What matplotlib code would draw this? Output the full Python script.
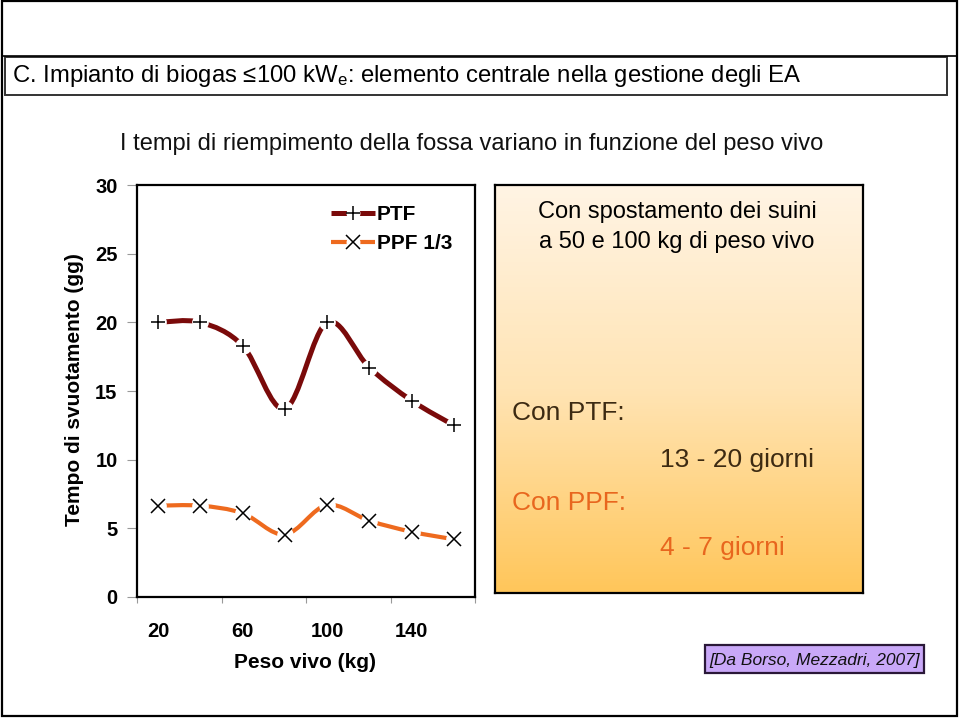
import numpy as np
import matplotlib
matplotlib.use("Agg")
import matplotlib.pyplot as plt
from matplotlib.path import Path
from matplotlib.patches import PathPatch, Rectangle
from matplotlib.lines import Line2D
from matplotlib.legend_handler import HandlerTuple
from matplotlib.colors import LinearSegmentedColormap

plt.rcParams['font.family'] = ['Liberation Sans', 'DejaVu Sans']
plt.rcParams['mathtext.fontset'] = 'custom'
plt.rcParams['mathtext.rm'] = 'Liberation Sans'
plt.rcParams['mathtext.it'] = 'Liberation Sans:italic'

# ---- data ----
peso_vivo = [20, 40, 60, 80, 100, 120, 140, 160]
ptf = [20.0, 20.0, 18.3, 13.7, 20.0, 16.7, 14.3, 12.5]
ppf = [6.65, 6.65, 6.1, 4.55, 6.7, 5.55, 4.75, 4.2]
x_tick_labels = ['20', '60', '100', '140']
x_tick_values = [20, 60, 100, 140]
y_ticks = [0, 5, 10, 15, 20, 25, 30]
series_names = ['PTF', 'PPF 1/3']

W, H = 960, 720
fig = plt.figure(figsize=(9.6, 7.2), dpi=100)

def fx(px):
    return px / W

def fy(py):
    return 1 - py / H

# ---- frame / header ----
frame = fig.add_axes([0, 0, 1, 1], zorder=-5)
frame.set_xlim(0, W)
frame.set_ylim(H, 0)
frame.axis('off')
frame.add_patch(Rectangle((2, 1), 955, 715, fill=False, ec='black', lw=1.6))
frame.plot([2, 957], [56, 56], color='black', lw=1.2)
frame.add_patch(Rectangle((5, 57), 942, 38, fill=False, ec='#333333', lw=1.4))
fig.text(fx(12), fy(76), r"C. Impianto di biogas ≤100 kW$_\mathrm{e}$: elemento centrale nella gestione degli EA",
         fontsize=17.2, ha='left', va='center', color='black')

# chart title
fig.text(fx(472), fy(144), "I tempi di riempimento della fossa variano in funzione del peso vivo",
         fontsize=17, ha='center', va='center', color='#111111')

# ---- main chart ----
ax = fig.add_axes([fx(137), fy(597), (475 - 137) / W, (597 - 185) / H])
ax.set_xlim(10, 170)
ax.set_ylim(0, 30)

def smooth_path(xs, ys):
    pts = np.column_stack([xs, ys]).astype(float)
    n = len(pts)
    verts = [pts[0]]
    codes = [Path.MOVETO]
    for i in range(n - 1):
        p0 = pts[i - 1] if i > 0 else pts[i]
        p1 = pts[i]
        p2 = pts[i + 1]
        p3 = pts[i + 2] if i + 2 < n else pts[i + 1]
        c1 = p1 + (p2 - p0) / 6.0
        c2 = p2 - (p3 - p1) / 6.0
        verts += [c1, c2, p2]
        codes += [Path.CURVE4] * 3
    return Path(verts, codes)

ptf_color = '#7A0A0A'
ppf_color = '#EE6A1E'

handles = []
for ys, col, mk, lw in [(ptf, ptf_color, '+', 3.6), (ppf, ppf_color, 'x', 3.0)]:
    ax.add_patch(PathPatch(smooth_path(peso_vivo, ys), fill=False, ec=col, lw=lw,
                           capstyle='butt', zorder=2))
    ax.plot(peso_vivo, ys, linestyle='none', marker='o', markersize=12,
            markerfacecolor='white', markeredgecolor='none', zorder=3)
    ax.plot(peso_vivo, ys, linestyle='none', marker=mk, markersize=10,
            markeredgecolor='black', markeredgewidth=1.1, zorder=4)
    h_line = Line2D([], [], color=col, lw=lw, solid_capstyle='butt')
    h_white = Line2D([], [], linestyle='none', marker='o', markersize=10,
                     markerfacecolor='white', markeredgecolor='none')
    h_mk = Line2D([], [], linestyle='none', marker=mk, markersize=10,
                  markeredgecolor='black', markeredgewidth=1.1)
    handles.append((h_line, h_white, h_mk))

ax.set_yticks(y_ticks)
ax.set_yticklabels([str(v) for v in y_ticks])
ax.set_xticks(x_tick_values)
ax.set_xticklabels(x_tick_labels)
ax.set_xticks([10, 50, 90, 130, 170], minor=True)
ax.tick_params(axis='x', which='major', length=0, pad=18, labelsize=14.5)
ax.tick_params(axis='x', which='minor', length=4, width=0.8, color='#999999', direction='out')
ax.tick_params(axis='y', which='major', length=7, width=0.8, color='#999999', direction='out',
               pad=7, labelsize=14.5)
for lab in ax.get_xticklabels() + ax.get_yticklabels():
    lab.set_fontweight('bold')
for s in ax.spines.values():
    s.set_linewidth(1.6)
    s.set_color('black')

fig.text(fx(305), fy(663), "Peso vivo (kg)", fontsize=15, fontweight='bold', ha='center', va='center')
fig.text(fx(75), fy(390), "Tempo di svuotamento (gg)", fontsize=15, fontweight='bold',
         ha='center', va='center', rotation=90)

leg = fig.legend(handles, series_names, handler_map={tuple: HandlerTuple(ndivide=1, pad=0)},
                 loc='upper left', bbox_to_anchor=(fx(331), fy(205)), frameon=False,
                 fontsize=15, handlelength=2.1, handletextpad=0.1, labelspacing=0.5,
                 borderpad=0, borderaxespad=0, numpoints=1)
for t in leg.get_texts():
    t.set_fontweight('bold')

# ---- right info box with gradient ----
bx = fig.add_axes([fx(495), fy(593), (863 - 495) / W, (593 - 185) / H])
cmap = LinearSegmentedColormap.from_list('grad', ['#FFF4E4', '#FFE4B4', '#FFC65A'])
grad = np.linspace(0, 1, 256).reshape(-1, 1)
bx.imshow(grad, cmap=cmap, aspect='auto', extent=[0, 1, 0, 1], origin='upper')
bx.set_xticks([])
bx.set_yticks([])
for s in bx.spines.values():
    s.set_linewidth(1.6)
    s.set_color('black')

fig.text(fx(677), fy(212), "Con spostamento dei suini", fontsize=17, ha='center', va='center', color='black')
fig.text(fx(677), fy(242), "a 50 e 100 kg di peso vivo", fontsize=17, ha='center', va='center', color='black')
brown = '#3C2A12'
orange = '#E8661E'
fig.text(fx(512), fy(413), "Con PTF:", fontsize=19, ha='left', va='center', color=brown)
fig.text(fx(660), fy(460), "13 - 20 giorni", fontsize=19, ha='left', va='center', color=brown)
fig.text(fx(512), fy(503), "Con PPF:", fontsize=19, ha='left', va='center', color=orange)
fig.text(fx(660), fy(548), "4 - 7 giorni", fontsize=19, ha='left', va='center', color=orange)

# ---- citation ----
frame.add_patch(Rectangle((705, 645), 219, 28, fc='#C9A8F8', ec='#2A1838', lw=1.6, zorder=1))
fig.text(fx(814.5), fy(660), "[Da Borso, Mezzadri, 2007]", fontsize=12.5, style='italic',
         ha='center', va='center', color='#111111')

fig.savefig('out.png', dpi=100)
